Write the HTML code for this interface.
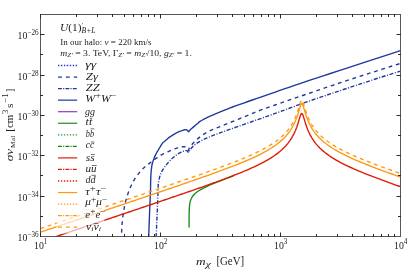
<!DOCTYPE html>
<html><head><meta charset="utf-8"><style>
html,body{margin:0;padding:0;background:#fff;}
svg{display:block;will-change:transform;opacity:0.999;}
text{font-family:"Liberation Serif",serif;fill:#1c1c1c;}
.tl{font-size:9.8px;}
.sup{font-size:7.2px;}
.it{font-style:italic;}
.lg{font-size:9.6px;}
.ssup{font-size:8.2px;}
.ssub{font-size:6.5px;font-style:italic;}
.sm{font-size:7.4px;}
.c{fill:none;stroke-width:1.38;stroke-linejoin:round;}
</style></head><body>
<svg width="407" height="270" viewBox="0 0 407 270">
<rect width="407" height="270" fill="#fff"/>
<defs><clipPath id="cp"><rect x="40.5" y="14.5" width="360.0" height="222.0"/></clipPath></defs>
<g clip-path="url(#cp)">
<path class="c" d="M121.30,237.00 L121.44,234.61 L121.64,231.18 L121.88,227.26 L122.14,223.41 L122.40,220.20 L122.67,217.70 L122.96,215.54 L123.26,213.61 L123.57,211.77 L123.90,209.90 L124.21,208.07 L124.51,206.35 L124.83,204.67 L125.21,202.91 L125.70,201.00 L126.31,198.85 L127.02,196.52 L127.80,194.14 L128.60,191.83 L129.40,189.70 L130.19,187.78 L130.99,185.97 L131.81,184.27 L132.65,182.66 L133.50,181.10 L134.36,179.63 L135.24,178.24 L136.14,176.93 L137.06,175.66 L138.00,174.40 L138.97,173.15 L139.95,171.93 L140.97,170.75 L142.01,169.60 L143.10,168.50 L144.26,167.44 L145.47,166.42 L146.71,165.45 L147.94,164.51 L149.10,163.60 L150.17,162.75 L151.17,161.95 L152.16,161.19 L153.18,160.41 L154.30,159.60 L155.52,158.73 L156.80,157.83 L158.14,156.92 L159.51,156.04 L160.90,155.20 L162.33,154.42 L163.82,153.67 L165.32,152.96 L166.83,152.27 L168.30,151.60 L169.76,150.94 L171.23,150.29 L172.68,149.67 L174.08,149.10 L175.40,148.60 L176.64,148.17 L177.81,147.79 L178.93,147.47 L179.99,147.21 L181.00,147.00 L181.98,146.84 L182.92,146.74 L183.81,146.70 L184.61,146.72 L185.30,146.80 L185.88,147.00 L186.36,147.31 L186.75,147.66 L187.06,147.98 L187.30,148.20 L188.40,150.40 L189.40,147.80 L189.77,147.30 L190.28,146.62 L190.90,145.80 L191.61,144.90 L192.40,144.00 L193.28,143.06 L194.25,142.05 L195.31,141.00 L196.43,139.93 L197.60,138.90 L198.82,137.88 L200.10,136.86 L201.45,135.84 L202.85,134.85 L204.30,133.90 L205.84,132.97 L207.46,132.07 L209.13,131.19 L210.79,130.37 L212.40,129.60 L213.70,129.02 L214.72,128.61 L215.85,128.20 L217.48,127.59 L220.00,126.60 L223.74,125.10 L228.45,123.20 L233.62,121.12 L238.74,119.05 L243.30,117.20 L247.11,115.62 L250.52,114.18 L253.80,112.79 L257.24,111.39 L261.10,109.90 L265.47,108.31 L270.17,106.67 L275.07,104.99 L280.05,103.30 L285.00,101.60 L289.70,99.97 L294.24,98.40 L298.92,96.79 L304.07,95.02 L310.00,93.00 L316.74,90.71 L324.08,88.20 L331.97,85.53 L340.36,82.72 L349.20,79.80 L359.51,76.46 L371.31,72.68 L383.09,68.93 L393.33,65.68 L400.50,63.40" stroke="#20379c" stroke-dasharray="3.8,3.8" stroke-dashoffset="3.2"/>
<path class="c" d="M156.10,237.00 L156.24,233.93 L156.44,229.54 L156.67,224.50 L156.90,219.43 L157.10,215.00 L157.27,211.14 L157.43,207.42 L157.57,203.93 L157.70,200.76 L157.80,198.00 L157.87,195.76 L157.90,194.00 L157.92,192.52 L157.95,191.14 L158.00,189.70 L158.06,188.21 L158.12,186.79 L158.20,185.40 L158.32,184.02 L158.50,182.60 L158.74,181.12 L159.04,179.59 L159.38,178.07 L159.76,176.59 L160.20,175.20 L160.69,173.91 L161.23,172.70 L161.82,171.54 L162.44,170.41 L163.10,169.30 L163.79,168.21 L164.53,167.16 L165.29,166.12 L166.09,165.11 L166.90,164.10 L167.72,163.10 L168.56,162.10 L169.42,161.12 L170.33,160.16 L171.30,159.20 L172.36,158.23 L173.50,157.24 L174.67,156.28 L175.82,155.39 L176.90,154.60 L177.89,153.93 L178.84,153.36 L179.75,152.86 L180.63,152.41 L181.50,152.00 L182.37,151.61 L183.24,151.27 L184.08,150.97 L184.84,150.75 L185.50,150.60 L186.04,150.57 L186.50,150.65 L186.88,150.78 L187.18,150.92 L187.40,151.00 L188.60,152.60 L189.80,150.20 L190.27,149.59 L190.92,148.73 L191.71,147.74 L192.58,146.72 L193.50,145.80 L194.47,144.98 L195.52,144.19 L196.64,143.42 L197.83,142.66 L199.10,141.90 L200.45,141.14 L201.90,140.39 L203.40,139.65 L204.95,138.92 L206.50,138.20 L208.12,137.48 L209.82,136.75 L211.52,136.04 L213.14,135.38 L214.60,134.80 L215.57,134.43 L216.10,134.24 L216.68,134.05 L217.82,133.67 L220.00,132.90 L223.35,131.70 L227.55,130.20 L232.39,128.47 L237.71,126.58 L243.30,124.60 L249.34,122.48 L255.94,120.18 L262.86,117.77 L269.86,115.32 L276.70,112.90 L282.89,110.65 L288.61,108.52 L294.55,106.30 L301.45,103.80 L310.00,100.80 L321.25,96.97 L334.72,92.45 L348.86,87.73 L362.11,83.35 L372.90,79.80 L381.12,77.15 L387.81,75.05 L393.14,73.43 L397.31,72.17 L400.50,71.20" stroke="#20379c" stroke-dasharray="4,1.6,1,1.6"/>
<path class="c" d="M148.70,237.00 L148.81,233.93 L148.97,229.54 L149.15,224.50 L149.33,219.43 L149.50,215.00 L149.65,211.14 L149.81,207.42 L149.95,203.93 L150.09,200.76 L150.20,198.00 L150.28,195.89 L150.34,194.36 L150.39,193.06 L150.44,191.63 L150.50,189.70 L150.56,187.09 L150.62,184.03 L150.69,180.81 L150.78,177.71 L150.90,175.00 L151.05,172.72 L151.21,170.69 L151.41,168.84 L151.63,167.13 L151.90,165.50 L152.21,163.98 L152.56,162.62 L152.94,161.35 L153.35,160.13 L153.80,158.90 L154.30,157.63 L154.87,156.35 L155.45,155.12 L156.00,153.98 L156.50,153.00 L156.88,152.27 L157.18,151.75 L157.47,151.31 L157.82,150.77 L158.30,150.00 L158.96,148.88 L159.76,147.50 L160.62,146.05 L161.46,144.69 L162.20,143.60 L162.81,142.85 L163.35,142.32 L163.85,141.92 L164.39,141.51 L165.00,141.00 L165.72,140.35 L166.50,139.64 L167.32,138.92 L168.13,138.22 L168.90,137.60 L169.60,137.08 L170.24,136.64 L170.88,136.22 L171.58,135.79 L172.40,135.30 L173.38,134.71 L174.48,134.05 L175.64,133.37 L176.77,132.74 L177.80,132.20 L178.74,131.77 L179.62,131.42 L180.46,131.12 L181.26,130.86 L182.00,130.60 L182.70,130.34 L183.35,130.09 L183.96,129.88 L184.51,129.71 L185.00,129.60 L185.44,129.58 L185.82,129.64 L186.14,129.74 L186.40,129.84 L186.60,129.90 L187.70,130.80 L188.70,131.80 L189.80,130.20 L190.04,129.97 L190.36,129.67 L190.77,129.29 L191.31,128.80 L192.00,128.20 L192.95,127.39 L194.15,126.39 L195.43,125.32 L196.63,124.32 L197.60,123.50 L198.21,122.94 L198.57,122.55 L198.86,122.24 L199.28,121.89 L200.00,121.40 L201.09,120.74 L202.43,119.98 L203.92,119.17 L205.48,118.36 L207.00,117.60 L208.40,116.94 L209.73,116.34 L211.14,115.74 L212.78,115.05 L214.80,114.20 L217.31,113.14 L220.22,111.92 L223.34,110.61 L226.53,109.31 L229.60,108.10 L232.55,106.99 L235.48,105.93 L238.42,104.90 L241.39,103.86 L244.40,102.80 L247.32,101.76 L250.13,100.76 L253.04,99.73 L256.27,98.60 L260.00,97.30 L264.40,95.78 L269.32,94.08 L274.55,92.28 L279.85,90.46 L285.00,88.70 L289.81,87.05 L294.42,85.47 L299.14,83.85 L304.23,82.13 L310.00,80.20 L316.37,78.10 L323.14,75.88 L330.44,73.50 L338.35,70.92 L347.00,68.10 L357.50,64.67 L369.78,60.65 L382.16,56.60 L392.96,53.07 L400.50,50.60" stroke="#20379c"/>
<path class="c" d="M189.07,227.58 L189.07,225.52 L189.07,223.46 L189.08,221.40 L189.09,219.34 L189.10,217.28 L189.12,215.22 L189.15,213.16 L189.20,211.09 L189.28,209.02 L189.41,206.95 L189.61,204.87 L189.94,202.77 L190.46,200.66 L191.27,198.50 L192.55,196.29 L194.54,193.99 L197.56,191.53 L202.07,188.82 L208.55,185.71 L217.49,181.98 L217.75,181.87 L220.85,180.64 L223.95,179.42 L227.05,178.21 L230.14,176.99 L233.24,175.76" stroke="#1e8c1e"/>
<path class="c" d="M40.50,241.78 L42.51,241.10 L44.52,240.42 L46.53,239.75 L48.54,239.07 L50.56,238.39 L52.57,237.72 L54.58,237.04 L56.59,236.36 L58.60,235.69 L60.61,235.01 L62.62,234.33 L64.63,233.66 L66.65,232.98 L68.66,232.31 L70.67,231.63 L72.68,230.95 L74.69,230.27 L76.70,229.60 L78.71,228.92 L80.72,228.24 L82.73,227.57 L84.75,226.89 L86.76,226.21 L88.77,225.54 L90.78,224.86 L92.79,224.18 L94.80,223.51 L96.81,222.83 L98.82,222.15 L100.84,221.48 L102.85,220.80 L104.86,220.12 L106.87,219.44 L108.88,218.77 L110.89,218.09 L112.90,217.41 L114.91,216.73 L116.92,216.06 L118.94,215.38 L120.95,214.70 L122.96,214.02 L124.97,213.35 L126.98,212.67 L128.99,211.99 L131.00,211.31 L133.01,210.63 L135.03,209.95 L137.04,209.28 L139.05,208.60 L141.06,207.92 L143.07,207.24 L145.08,206.56 L147.09,205.88 L149.10,205.20 L151.11,204.52 L153.13,203.84 L155.14,203.16 L157.15,202.47 L159.16,201.79 L161.17,201.11 L163.18,200.43 L165.19,199.74 L167.20,199.06 L169.22,198.37 L171.23,197.69 L173.24,197.00 L175.25,196.32 L177.26,195.63 L179.27,194.94 L181.28,194.25 L183.29,193.56 L185.30,192.87 L187.32,192.18 L189.33,191.48 L191.34,190.79 L193.35,190.09 L195.36,189.39 L197.37,188.69 L199.38,187.99 L201.39,187.28 L203.41,186.58 L205.42,185.87 L207.43,185.16 L209.44,184.44 L211.45,183.72 L213.46,183.00 L215.47,182.28 L217.48,181.55 L219.49,180.81 L221.51,180.07 L223.52,179.33 L225.53,178.58 L227.54,177.82 L229.55,177.06 L231.56,176.29 L233.57,175.51 L235.58,174.73 L237.59,173.93 L239.61,173.12 L241.62,172.30 L243.63,171.47 L245.64,170.63 L247.65,169.77 L249.66,168.89 L251.67,167.99 L253.68,167.07 L255.70,166.13 L257.71,165.17 L259.72,164.17 L261.73,163.15 L263.74,162.08 L265.75,160.98 L267.76,159.83 L269.77,158.63 L271.78,157.37 L273.80,156.04 L275.81,154.63 L277.82,153.12 L279.83,151.51 L281.84,149.76 L283.85,147.84 L285.86,145.73 L287.87,143.37 L289.89,140.68 L291.90,137.56 L293.91,133.84 L294.17,133.30 L294.37,132.88 L294.57,132.45 L294.77,132.01 L294.97,131.57 L295.17,131.12 L295.36,130.66 L295.56,130.19 L295.75,129.71 L295.92,129.30 L295.95,129.23 L296.14,128.73 L296.33,128.23 L296.52,127.72 L296.72,127.20 L296.91,126.67 L297.10,126.12 L297.29,125.57 L297.47,125.01 L297.66,124.45 L297.85,123.87 L297.93,123.61 L298.04,123.28 L298.22,122.69 L298.41,122.08 L298.59,121.48 L298.77,120.86 L298.96,120.25 L299.14,119.63 L299.32,119.02 L299.50,118.41 L299.68,117.81 L299.86,117.22 L299.94,116.97 L300.04,116.65 L300.22,116.11 L300.40,115.60 L300.58,115.12 L300.76,114.70 L300.93,114.32 L301.11,114.01 L301.28,113.76 L301.46,113.59 L301.63,113.49 L301.80,113.47 L301.95,113.52 L301.98,113.53 L302.15,113.67 L302.32,113.87 L302.49,114.14 L302.66,114.47 L302.83,114.85 L303.00,115.28 L303.17,115.74 L303.34,116.23 L303.51,116.75 L303.67,117.28 L303.84,117.82 L303.96,118.23 L304.01,118.37 L304.17,118.93 L304.34,119.49 L304.50,120.05 L304.67,120.60 L304.83,121.15 L304.99,121.69 L305.16,122.22 L305.32,122.75 L305.48,123.26 L305.64,123.77 L305.80,124.27 L305.96,124.76 L305.97,124.80 L306.12,125.24 L306.28,125.71 L306.44,126.17 L306.60,126.62 L306.76,127.06 L306.91,127.49 L307.07,127.92 L307.23,128.33 L307.38,128.74 L307.54,129.13 L307.69,129.52 L307.85,129.90 L307.99,130.24 L308.00,130.28 L308.15,130.64 L308.31,131.00 L308.46,131.36 L308.61,131.70 L308.76,132.04 L310.00,134.61 L312.01,138.19 L314.02,141.22 L316.03,143.84 L318.04,146.15 L320.05,148.22 L322.06,150.10 L324.08,151.82 L326.09,153.42 L328.10,154.90 L330.11,156.30 L332.12,157.62 L334.13,158.87 L336.14,160.06 L338.15,161.20 L340.16,162.29 L342.18,163.35 L344.19,164.37 L346.20,165.36 L348.21,166.32 L350.22,167.25 L352.23,168.16 L354.24,169.06 L356.25,169.93 L358.27,170.79 L360.28,171.63 L362.29,172.46 L364.30,173.28 L366.31,174.08 L368.32,174.88 L370.33,175.66 L372.34,176.44 L374.35,177.21 L376.37,177.97 L378.38,178.72 L380.39,179.47 L382.40,180.22 L384.41,180.95 L386.42,181.69 L388.43,182.41 L390.44,183.14 L392.46,183.86 L394.47,184.58 L396.48,185.29 L398.49,186.00 L400.50,186.71" stroke="#de1c04"/>
<path class="c" d="M40.50,232.15 L42.51,231.47 L44.52,230.80 L46.53,230.12 L48.54,229.44 L50.56,228.77 L52.57,228.09 L54.58,227.41 L56.59,226.74 L58.60,226.06 L60.61,225.38 L62.62,224.71 L64.63,224.03 L66.65,223.35 L68.66,222.68 L70.67,222.00 L72.68,221.32 L74.69,220.65 L76.70,219.97 L78.71,219.29 L80.72,218.62 L82.73,217.94 L84.75,217.26 L86.76,216.59 L88.77,215.91 L90.78,215.23 L92.79,214.55 L94.80,213.88 L96.81,213.20 L98.82,212.52 L100.84,211.85 L102.85,211.17 L104.86,210.49 L106.87,209.82 L108.88,209.14 L110.89,208.46 L112.90,207.78 L114.91,207.11 L116.92,206.43 L118.94,205.75 L120.95,205.07 L122.96,204.39 L124.97,203.72 L126.98,203.04 L128.99,202.36 L131.00,201.68 L133.01,201.00 L135.03,200.33 L137.04,199.65 L139.05,198.97 L141.06,198.29 L143.07,197.61 L145.08,196.93 L147.09,196.25 L149.10,195.57 L151.11,194.89 L153.13,194.21 L155.14,193.53 L157.15,192.84 L159.16,192.16 L161.17,191.48 L163.18,190.80 L165.19,190.11 L167.20,189.43 L169.22,188.75 L171.23,188.06 L173.24,187.37 L175.25,186.69 L177.26,186.00 L179.27,185.31 L181.28,184.62 L183.29,183.93 L185.30,183.24 L187.32,182.55 L189.33,181.85 L191.34,181.16 L193.35,180.46 L195.36,179.76 L197.37,179.06 L199.38,178.36 L201.39,177.66 L203.41,176.95 L205.42,176.24 L207.43,175.53 L209.44,174.81 L211.45,174.09 L213.46,173.37 L215.47,172.65 L217.48,171.92 L219.49,171.18 L221.51,170.44 L223.52,169.70 L225.53,168.95 L227.54,168.20 L229.55,167.43 L231.56,166.66 L233.57,165.88 L235.58,165.10 L237.59,164.30 L239.61,163.49 L241.62,162.67 L243.63,161.84 L245.64,161.00 L247.65,160.14 L249.66,159.26 L251.67,158.36 L253.68,157.45 L255.70,156.51 L257.71,155.54 L259.72,154.54 L261.73,153.52 L263.74,152.46 L265.75,151.35 L267.76,150.20 L269.77,149.00 L271.78,147.74 L273.80,146.41 L275.81,145.00 L277.82,143.49 L279.83,141.88 L281.84,140.13 L283.85,138.22 L285.86,136.10 L287.87,133.74 L289.89,131.05 L291.90,127.93 L293.91,124.21 L294.17,123.67 L294.37,123.25 L294.57,122.82 L294.77,122.38 L294.97,121.94 L295.17,121.49 L295.36,121.03 L295.56,120.56 L295.75,120.08 L295.92,119.67 L295.95,119.60 L296.14,119.10 L296.33,118.60 L296.52,118.09 L296.72,117.57 L296.91,117.04 L297.10,116.50 L297.29,115.95 L297.47,115.39 L297.66,114.82 L297.85,114.24 L297.93,113.98 L298.04,113.65 L298.22,113.06 L298.41,112.45 L298.59,111.85 L298.77,111.23 L298.96,110.62 L299.14,110.00 L299.32,109.39 L299.50,108.78 L299.68,108.18 L299.86,107.59 L299.94,107.34 L300.04,107.02 L300.22,106.48 L300.40,105.97 L300.58,105.49 L300.76,105.07 L300.93,104.69 L301.11,104.38 L301.28,104.13 L301.46,103.96 L301.63,103.86 L301.80,103.84 L301.95,103.89 L301.98,103.90 L302.15,104.04 L302.32,104.24 L302.49,104.51 L302.66,104.84 L302.83,105.22 L303.00,105.65 L303.17,106.11 L303.34,106.60 L303.51,107.12 L303.67,107.65 L303.84,108.19 L303.96,108.60 L304.01,108.75 L304.17,109.30 L304.34,109.86 L304.50,110.42 L304.67,110.97 L304.83,111.52 L304.99,112.06 L305.16,112.59 L305.32,113.12 L305.48,113.64 L305.64,114.14 L305.80,114.64 L305.96,115.13 L305.97,115.17 L306.12,115.61 L306.28,116.08 L306.44,116.54 L306.60,116.99 L306.76,117.43 L306.91,117.86 L307.07,118.29 L307.23,118.70 L307.38,119.11 L307.54,119.50 L307.69,119.89 L307.85,120.28 L307.99,120.61 L308.00,120.65 L308.15,121.02 L308.31,121.37 L308.46,121.73 L308.61,122.07 L308.76,122.41 L310.00,124.98 L312.01,128.56 L314.02,131.59 L316.03,134.21 L318.04,136.52 L320.05,138.59 L322.06,140.47 L324.08,142.20 L326.09,143.79 L328.10,145.28 L330.11,146.67 L332.12,147.99 L334.13,149.24 L336.14,150.43 L338.15,151.57 L340.16,152.66 L342.18,153.72 L344.19,154.74 L346.20,155.73 L348.21,156.69 L350.22,157.62 L352.23,158.54 L354.24,159.43 L356.25,160.30 L358.27,161.16 L360.28,162.00 L362.29,162.83 L364.30,163.65 L366.31,164.45 L368.32,165.25 L370.33,166.03 L372.34,166.81 L374.35,167.58 L376.37,168.34 L378.38,169.09 L380.39,169.84 L382.40,170.59 L384.41,171.32 L386.42,172.06 L388.43,172.79 L390.44,173.51 L392.46,174.23 L394.47,174.95 L396.48,175.66 L398.49,176.37 L400.50,177.08" stroke="#ff9912"/>
<path class="c" d="M40.50,228.59 L42.51,227.92 L44.52,227.24 L46.53,226.56 L48.54,225.89 L50.56,225.21 L52.57,224.53 L54.58,223.86 L56.59,223.18 L58.60,222.51 L60.61,221.83 L62.62,221.15 L64.63,220.48 L66.65,219.80 L68.66,219.12 L70.67,218.45 L72.68,217.77 L74.69,217.09 L76.70,216.42 L78.71,215.74 L80.72,215.06 L82.73,214.39 L84.75,213.71 L86.76,213.03 L88.77,212.35 L90.78,211.68 L92.79,211.00 L94.80,210.32 L96.81,209.65 L98.82,208.97 L100.84,208.29 L102.85,207.62 L104.86,206.94 L106.87,206.26 L108.88,205.58 L110.89,204.91 L112.90,204.23 L114.91,203.55 L116.92,202.87 L118.94,202.20 L120.95,201.52 L122.96,200.84 L124.97,200.16 L126.98,199.48 L128.99,198.81 L131.00,198.13 L133.01,197.45 L135.03,196.77 L137.04,196.09 L139.05,195.41 L141.06,194.73 L143.07,194.05 L145.08,193.38 L147.09,192.70 L149.10,192.02 L151.11,191.33 L153.13,190.65 L155.14,189.97 L157.15,189.29 L159.16,188.61 L161.17,187.93 L163.18,187.24 L165.19,186.56 L167.20,185.88 L169.22,185.19 L171.23,184.51 L173.24,183.82 L175.25,183.13 L177.26,182.45 L179.27,181.76 L181.28,181.07 L183.29,180.38 L185.30,179.69 L187.32,178.99 L189.33,178.30 L191.34,177.60 L193.35,176.91 L195.36,176.21 L197.37,175.51 L199.38,174.81 L201.39,174.10 L203.41,173.39 L205.42,172.69 L207.43,171.97 L209.44,171.26 L211.45,170.54 L213.46,169.82 L215.47,169.09 L217.48,168.36 L219.49,167.63 L221.51,166.89 L223.52,166.15 L225.53,165.40 L227.54,164.64 L229.55,163.88 L231.56,163.11 L233.57,162.33 L235.58,161.54 L237.59,160.75 L239.61,159.94 L241.62,159.12 L243.63,158.29 L245.64,157.44 L247.65,156.58 L249.66,155.71 L251.67,154.81 L253.68,153.89 L255.70,152.95 L257.71,151.99 L259.72,150.99 L261.73,149.96 L263.74,148.90 L265.75,147.80 L267.76,146.65 L269.77,145.45 L271.78,144.19 L273.80,142.86 L275.81,141.45 L277.82,139.94 L279.83,138.32 L281.84,136.57 L283.85,134.66 L285.86,132.55 L287.87,130.18 L289.89,127.49 L291.90,124.37 L293.91,120.66 L294.17,120.11 L294.37,119.69 L294.57,119.26 L294.77,118.83 L294.97,118.38 L295.17,117.93 L295.36,117.47 L295.56,117.01 L295.75,116.53 L295.92,116.11 L295.95,116.04 L296.14,115.55 L296.33,115.05 L296.52,114.54 L296.72,114.01 L296.91,113.48 L297.10,112.94 L297.29,112.39 L297.47,111.83 L297.66,111.26 L297.85,110.68 L297.93,110.43 L298.04,110.10 L298.22,109.50 L298.41,108.90 L298.59,108.29 L298.77,107.68 L298.96,107.06 L299.14,106.45 L299.32,105.83 L299.50,105.22 L299.68,104.62 L299.86,104.04 L299.94,103.79 L300.04,103.47 L300.22,102.93 L300.40,102.41 L300.58,101.94 L300.76,101.51 L300.93,101.14 L301.11,100.83 L301.28,100.58 L301.46,100.41 L301.63,100.31 L301.80,100.29 L301.95,100.34 L301.98,100.35 L302.15,100.48 L302.32,100.69 L302.49,100.96 L302.66,101.29 L302.83,101.67 L303.00,102.09 L303.17,102.56 L303.34,103.05 L303.51,103.56 L303.67,104.09 L303.84,104.64 L303.96,105.04 L304.01,105.19 L304.17,105.75 L304.34,106.31 L304.50,106.86 L304.67,107.42 L304.83,107.96 L304.99,108.50 L305.16,109.04 L305.32,109.56 L305.48,110.08 L305.64,110.59 L305.80,111.09 L305.96,111.58 L305.97,111.61 L306.12,112.06 L306.28,112.53 L306.44,112.99 L306.60,113.44 L306.76,113.88 L306.91,114.31 L307.07,114.73 L307.23,115.15 L307.38,115.55 L307.54,115.95 L307.69,116.34 L307.85,116.72 L307.99,117.06 L308.00,117.10 L308.15,117.46 L308.31,117.82 L308.46,118.17 L308.61,118.52 L308.76,118.86 L310.00,121.42 L312.01,125.01 L314.02,128.04 L316.03,130.66 L318.04,132.97 L320.05,135.04 L322.06,136.92 L324.08,138.64 L326.09,140.24 L328.10,141.72 L330.11,143.12 L332.12,144.43 L334.13,145.68 L336.14,146.87 L338.15,148.01 L340.16,149.11 L342.18,150.16 L344.19,151.18 L346.20,152.17 L348.21,153.13 L350.22,154.07 L352.23,154.98 L354.24,155.87 L356.25,156.75 L358.27,157.61 L360.28,158.45 L362.29,159.28 L364.30,160.09 L366.31,160.90 L368.32,161.69 L370.33,162.48 L372.34,163.26 L374.35,164.02 L376.37,164.79 L378.38,165.54 L380.39,166.29 L382.40,167.03 L384.41,167.77 L386.42,168.50 L388.43,169.23 L390.44,169.96 L392.46,170.68 L394.47,171.40 L396.48,172.11 L398.49,172.82 L400.50,173.53" stroke="#ff9912" stroke-dasharray="3.8,3.8"/>
</g>
<rect x="56.5" y="17" width="47.8" height="216.5" rx="1.5" fill="#fff" fill-opacity="0.66"/>
<rect x="40.5" y="14.5" width="360.0" height="222.0" fill="none" stroke="#585858" stroke-width="1"/>
<line x1="76.50" y1="237.00" x2="76.50" y2="234.00" stroke="#2a2a2a" stroke-width="1.00"/><line x1="76.50" y1="14.00" x2="76.50" y2="17.00" stroke="#2a2a2a" stroke-width="1.00"/><line x1="97.50" y1="237.00" x2="97.50" y2="234.00" stroke="#2a2a2a" stroke-width="1.00"/><line x1="97.50" y1="14.00" x2="97.50" y2="17.00" stroke="#2a2a2a" stroke-width="1.00"/><line x1="112.50" y1="237.00" x2="112.50" y2="234.00" stroke="#2a2a2a" stroke-width="1.00"/><line x1="112.50" y1="14.00" x2="112.50" y2="17.00" stroke="#2a2a2a" stroke-width="1.00"/><line x1="124.50" y1="237.00" x2="124.50" y2="234.00" stroke="#2a2a2a" stroke-width="1.00"/><line x1="124.50" y1="14.00" x2="124.50" y2="17.00" stroke="#2a2a2a" stroke-width="1.00"/><line x1="133.50" y1="237.00" x2="133.50" y2="234.00" stroke="#2a2a2a" stroke-width="1.00"/><line x1="133.50" y1="14.00" x2="133.50" y2="17.00" stroke="#2a2a2a" stroke-width="1.00"/><line x1="141.50" y1="237.00" x2="141.50" y2="234.00" stroke="#2a2a2a" stroke-width="1.00"/><line x1="141.50" y1="14.00" x2="141.50" y2="17.00" stroke="#2a2a2a" stroke-width="1.00"/><line x1="148.50" y1="237.00" x2="148.50" y2="234.00" stroke="#2a2a2a" stroke-width="1.00"/><line x1="148.50" y1="14.00" x2="148.50" y2="17.00" stroke="#2a2a2a" stroke-width="1.00"/><line x1="154.50" y1="237.00" x2="154.50" y2="234.00" stroke="#2a2a2a" stroke-width="1.00"/><line x1="154.50" y1="14.00" x2="154.50" y2="17.00" stroke="#2a2a2a" stroke-width="1.00"/><line x1="160.50" y1="237.00" x2="160.50" y2="232.50" stroke="#2a2a2a" stroke-width="1.00"/><line x1="160.50" y1="14.00" x2="160.50" y2="18.50" stroke="#2a2a2a" stroke-width="1.00"/><line x1="196.50" y1="237.00" x2="196.50" y2="234.00" stroke="#2a2a2a" stroke-width="1.00"/><line x1="196.50" y1="14.00" x2="196.50" y2="17.00" stroke="#2a2a2a" stroke-width="1.00"/><line x1="217.50" y1="237.00" x2="217.50" y2="234.00" stroke="#2a2a2a" stroke-width="1.00"/><line x1="217.50" y1="14.00" x2="217.50" y2="17.00" stroke="#2a2a2a" stroke-width="1.00"/><line x1="232.50" y1="237.00" x2="232.50" y2="234.00" stroke="#2a2a2a" stroke-width="1.00"/><line x1="232.50" y1="14.00" x2="232.50" y2="17.00" stroke="#2a2a2a" stroke-width="1.00"/><line x1="244.50" y1="237.00" x2="244.50" y2="234.00" stroke="#2a2a2a" stroke-width="1.00"/><line x1="244.50" y1="14.00" x2="244.50" y2="17.00" stroke="#2a2a2a" stroke-width="1.00"/><line x1="253.50" y1="237.00" x2="253.50" y2="234.00" stroke="#2a2a2a" stroke-width="1.00"/><line x1="253.50" y1="14.00" x2="253.50" y2="17.00" stroke="#2a2a2a" stroke-width="1.00"/><line x1="261.50" y1="237.00" x2="261.50" y2="234.00" stroke="#2a2a2a" stroke-width="1.00"/><line x1="261.50" y1="14.00" x2="261.50" y2="17.00" stroke="#2a2a2a" stroke-width="1.00"/><line x1="268.50" y1="237.00" x2="268.50" y2="234.00" stroke="#2a2a2a" stroke-width="1.00"/><line x1="268.50" y1="14.00" x2="268.50" y2="17.00" stroke="#2a2a2a" stroke-width="1.00"/><line x1="274.50" y1="237.00" x2="274.50" y2="234.00" stroke="#2a2a2a" stroke-width="1.00"/><line x1="274.50" y1="14.00" x2="274.50" y2="17.00" stroke="#2a2a2a" stroke-width="1.00"/><line x1="280.50" y1="237.00" x2="280.50" y2="232.50" stroke="#2a2a2a" stroke-width="1.00"/><line x1="280.50" y1="14.00" x2="280.50" y2="18.50" stroke="#2a2a2a" stroke-width="1.00"/><line x1="316.50" y1="237.00" x2="316.50" y2="234.00" stroke="#2a2a2a" stroke-width="1.00"/><line x1="316.50" y1="14.00" x2="316.50" y2="17.00" stroke="#2a2a2a" stroke-width="1.00"/><line x1="337.50" y1="237.00" x2="337.50" y2="234.00" stroke="#2a2a2a" stroke-width="1.00"/><line x1="337.50" y1="14.00" x2="337.50" y2="17.00" stroke="#2a2a2a" stroke-width="1.00"/><line x1="352.50" y1="237.00" x2="352.50" y2="234.00" stroke="#2a2a2a" stroke-width="1.00"/><line x1="352.50" y1="14.00" x2="352.50" y2="17.00" stroke="#2a2a2a" stroke-width="1.00"/><line x1="364.50" y1="237.00" x2="364.50" y2="234.00" stroke="#2a2a2a" stroke-width="1.00"/><line x1="364.50" y1="14.00" x2="364.50" y2="17.00" stroke="#2a2a2a" stroke-width="1.00"/><line x1="373.50" y1="237.00" x2="373.50" y2="234.00" stroke="#2a2a2a" stroke-width="1.00"/><line x1="373.50" y1="14.00" x2="373.50" y2="17.00" stroke="#2a2a2a" stroke-width="1.00"/><line x1="381.50" y1="237.00" x2="381.50" y2="234.00" stroke="#2a2a2a" stroke-width="1.00"/><line x1="381.50" y1="14.00" x2="381.50" y2="17.00" stroke="#2a2a2a" stroke-width="1.00"/><line x1="388.50" y1="237.00" x2="388.50" y2="234.00" stroke="#2a2a2a" stroke-width="1.00"/><line x1="388.50" y1="14.00" x2="388.50" y2="17.00" stroke="#2a2a2a" stroke-width="1.00"/><line x1="394.50" y1="237.00" x2="394.50" y2="234.00" stroke="#2a2a2a" stroke-width="1.00"/><line x1="394.50" y1="14.00" x2="394.50" y2="17.00" stroke="#2a2a2a" stroke-width="1.00"/><line x1="40.00" y1="216.50" x2="43.00" y2="216.50" stroke="#2a2a2a" stroke-width="1.00"/><line x1="401.00" y1="216.50" x2="398.00" y2="216.50" stroke="#2a2a2a" stroke-width="1.00"/><line x1="40.00" y1="196.50" x2="44.50" y2="196.50" stroke="#2a2a2a" stroke-width="1.00"/><line x1="401.00" y1="196.50" x2="396.50" y2="196.50" stroke="#2a2a2a" stroke-width="1.00"/><line x1="40.00" y1="175.50" x2="43.00" y2="175.50" stroke="#2a2a2a" stroke-width="1.00"/><line x1="401.00" y1="175.50" x2="398.00" y2="175.50" stroke="#2a2a2a" stroke-width="1.00"/><line x1="40.00" y1="155.50" x2="44.50" y2="155.50" stroke="#2a2a2a" stroke-width="1.00"/><line x1="401.00" y1="155.50" x2="396.50" y2="155.50" stroke="#2a2a2a" stroke-width="1.00"/><line x1="40.00" y1="135.50" x2="43.00" y2="135.50" stroke="#2a2a2a" stroke-width="1.00"/><line x1="401.00" y1="135.50" x2="398.00" y2="135.50" stroke="#2a2a2a" stroke-width="1.00"/><line x1="40.00" y1="115.50" x2="44.50" y2="115.50" stroke="#2a2a2a" stroke-width="1.00"/><line x1="401.00" y1="115.50" x2="396.50" y2="115.50" stroke="#2a2a2a" stroke-width="1.00"/><line x1="40.00" y1="95.50" x2="43.00" y2="95.50" stroke="#2a2a2a" stroke-width="1.00"/><line x1="401.00" y1="95.50" x2="398.00" y2="95.50" stroke="#2a2a2a" stroke-width="1.00"/><line x1="40.00" y1="75.50" x2="44.50" y2="75.50" stroke="#2a2a2a" stroke-width="1.00"/><line x1="401.00" y1="75.50" x2="396.50" y2="75.50" stroke="#2a2a2a" stroke-width="1.00"/><line x1="40.00" y1="54.50" x2="43.00" y2="54.50" stroke="#2a2a2a" stroke-width="1.00"/><line x1="401.00" y1="54.50" x2="398.00" y2="54.50" stroke="#2a2a2a" stroke-width="1.00"/><line x1="40.00" y1="34.50" x2="44.50" y2="34.50" stroke="#2a2a2a" stroke-width="1.00"/><line x1="401.00" y1="34.50" x2="396.50" y2="34.50" stroke="#2a2a2a" stroke-width="1.00"/><line x1="40.50" y1="14.00" x2="40.50" y2="18.50" stroke="#2a2a2a" stroke-width="1.00"/><line x1="40.50" y1="237.00" x2="40.50" y2="232.50" stroke="#2a2a2a" stroke-width="1.00"/>
<g class="txt">
<text x="38.6" y="241.20" text-anchor="end" class="tl">10<tspan dy="-4.2" class="sup">−36</tspan></text><text x="38.6" y="200.84" text-anchor="end" class="tl">10<tspan dy="-4.2" class="sup">−34</tspan></text><text x="38.6" y="160.47" text-anchor="end" class="tl">10<tspan dy="-4.2" class="sup">−32</tspan></text><text x="38.6" y="120.11" text-anchor="end" class="tl">10<tspan dy="-4.2" class="sup">−30</tspan></text><text x="38.6" y="79.75" text-anchor="end" class="tl">10<tspan dy="-4.2" class="sup">−28</tspan></text><text x="38.6" y="39.38" text-anchor="end" class="tl">10<tspan dy="-4.2" class="sup">−26</tspan></text>
<text x="40.70" y="248.6" text-anchor="middle" class="tl">10<tspan dy="-4.2" class="sup">1</tspan></text><text x="160.70" y="248.6" text-anchor="middle" class="tl">10<tspan dy="-4.2" class="sup">2</tspan></text><text x="280.70" y="248.6" text-anchor="middle" class="tl">10<tspan dy="-4.2" class="sup">3</tspan></text><text x="400.70" y="248.6" text-anchor="middle" class="tl">10<tspan dy="-4.2" class="sup">4</tspan></text>
<text x="60" y="30.8" style="font-size:11px" textLength="35.6" lengthAdjust="spacingAndGlyphs"><tspan class="it">U</tspan>(1)<tspan dy="-3.5" style="font-size:7px">′</tspan><tspan dy="5.6" dx="-1.5" class="it" style="font-size:7.4px">B+L</tspan></text>
<text x="60.3" y="44.6" class="sm" textLength="91.2" lengthAdjust="spacingAndGlyphs">In our halo: <tspan class="it">v</tspan> = 220 km/s</text>
<text x="60.3" y="55.6" class="sm" textLength="131.6" lengthAdjust="spacingAndGlyphs"><tspan class="it">m</tspan><tspan dy="1.5" style="font-size:5.4px" class="it">Z′</tspan><tspan dy="-1.5"> = 3. TeV, Γ</tspan><tspan dy="1.5" style="font-size:5.4px" class="it">Z′</tspan><tspan dy="-1.5"> = </tspan><tspan class="it">m</tspan><tspan dy="1.5" style="font-size:5.4px" class="it">Z′</tspan><tspan dy="-1.5">/10, </tspan><tspan class="it">g</tspan><tspan dy="1.5" style="font-size:5.4px" class="it">Z′</tspan><tspan dy="-1.5"> = 1.</tspan></text>
<line x1="58" y1="65.50" x2="77.2" y2="65.50" stroke="#2233cc" stroke-width="1.35" stroke-dasharray="1.35,1.6"/><text x="85.30" y="67.70" class="lg" textLength="11.00" lengthAdjust="spacingAndGlyphs"><tspan class='it'>γγ</tspan></text><line x1="58" y1="77.05" x2="77.2" y2="77.05" stroke="#20379c" stroke-width="1.2" stroke-dasharray="3.9,4"/><text x="85.80" y="79.70" class="lg" textLength="12.20" lengthAdjust="spacingAndGlyphs"><tspan class='it'>Zγ</tspan></text><line x1="58" y1="88.60" x2="77.2" y2="88.60" stroke="#20379c" stroke-width="1.2" stroke-dasharray="3.9,1.2,1.1,1.2"/><text x="85.80" y="90.50" class="lg" textLength="13.90" lengthAdjust="spacingAndGlyphs"><tspan class='it'>ZZ</tspan></text><line x1="58" y1="100.15" x2="77.2" y2="100.15" stroke="#20379c" stroke-width="1.2" stroke-dasharray="none"/><text x="85.30" y="101.70" class="lg" textLength="31.30" lengthAdjust="spacingAndGlyphs"><tspan class='it'>W</tspan><tspan dy='-3.7' class='ssup'>+</tspan><tspan dy='3.7' class='it'>W</tspan><tspan dy='-3.7' class='ssup'>−</tspan></text><line x1="58" y1="111.70" x2="77.2" y2="111.70" stroke="#9a35c8" stroke-width="1.2" stroke-dasharray="none"/><text x="85.00" y="114.70" class="lg" textLength="10.00" lengthAdjust="spacingAndGlyphs"><tspan class='it'>gg</tspan></text><line x1="58" y1="123.25" x2="77.2" y2="123.25" stroke="#1e8c1e" stroke-width="1.2" stroke-dasharray="none"/><text x="85.60" y="125.40" class="lg" textLength="6.60" lengthAdjust="spacingAndGlyphs"><tspan class='it'>tt</tspan></text><line x1="89.70" y1="118.30" x2="92.40" y2="118.30" stroke="#111" stroke-width="0.6"/><line x1="58" y1="134.80" x2="77.2" y2="134.80" stroke="#22a022" stroke-width="1.35" stroke-dasharray="1.35,1.6"/><text x="85.80" y="136.70" class="lg" textLength="8.30" lengthAdjust="spacingAndGlyphs"><tspan class='it'>bb</tspan></text><line x1="90.75" y1="128.80" x2="94.30" y2="128.80" stroke="#111" stroke-width="0.6"/><line x1="58" y1="146.35" x2="77.2" y2="146.35" stroke="#158515" stroke-width="1.2" stroke-dasharray="3.9,1.2,1.1,1.2"/><text x="85.80" y="148.30" class="lg" textLength="8.40" lengthAdjust="spacingAndGlyphs"><tspan class='it'>cc</tspan></text><line x1="90.80" y1="142.00" x2="94.40" y2="142.00" stroke="#111" stroke-width="0.6"/><line x1="58" y1="157.90" x2="77.2" y2="157.90" stroke="#de1c04" stroke-width="1.2" stroke-dasharray="none"/><text x="85.80" y="161.00" class="lg" textLength="8.80" lengthAdjust="spacingAndGlyphs"><tspan class='it'>ss</tspan></text><line x1="91.00" y1="154.50" x2="94.80" y2="154.50" stroke="#111" stroke-width="0.6"/><line x1="58" y1="169.45" x2="77.2" y2="169.45" stroke="#de1c04" stroke-width="1.2" stroke-dasharray="3.9,1.2,1.1,1.2"/><text x="85.50" y="172.20" class="lg" textLength="11.00" lengthAdjust="spacingAndGlyphs"><tspan class='it'>uu</tspan></text><line x1="91.80" y1="165.50" x2="96.70" y2="165.50" stroke="#111" stroke-width="0.6"/><line x1="58" y1="181.00" x2="77.2" y2="181.00" stroke="#de1c04" stroke-width="1.35" stroke-dasharray="1.35,1.6"/><text x="85.50" y="183.30" class="lg" textLength="10.10" lengthAdjust="spacingAndGlyphs"><tspan class='it'>dd</tspan></text><line x1="91.35" y1="175.30" x2="95.80" y2="175.30" stroke="#111" stroke-width="0.6"/><line x1="58" y1="192.55" x2="77.2" y2="192.55" stroke="#ff9912" stroke-width="1.2" stroke-dasharray="none"/><text x="85.30" y="194.50" class="lg" textLength="21.20" lengthAdjust="spacingAndGlyphs"><tspan class='it'>τ</tspan><tspan dy='-3.7' class='ssup'>+</tspan><tspan dy='3.7' class='it'>τ</tspan><tspan dy='-3.7' class='ssup'>−</tspan></text><line x1="58" y1="204.10" x2="77.2" y2="204.10" stroke="#ff9912" stroke-width="1.35" stroke-dasharray="1.35,1.6"/><text x="85.30" y="205.40" class="lg" textLength="22.10" lengthAdjust="spacingAndGlyphs"><tspan class='it'>μ</tspan><tspan dy='-3.7' class='ssup'>+</tspan><tspan dy='3.7' class='it'>μ</tspan><tspan dy='-3.7' class='ssup'>−</tspan></text><line x1="58" y1="215.65" x2="77.2" y2="215.65" stroke="#ff9912" stroke-width="1.2" stroke-dasharray="3.9,1.2,1.1,1.2"/><text x="85.30" y="217.50" class="lg" textLength="20.20" lengthAdjust="spacingAndGlyphs"><tspan class='it'>e</tspan><tspan dy='-3.7' class='ssup'>+</tspan><tspan dy='3.7' class='it'>e</tspan><tspan dy='-3.7' class='ssup'>−</tspan></text><line x1="58" y1="227.20" x2="77.2" y2="227.20" stroke="#ff9912" stroke-width="1.2" stroke-dasharray="3.9,4"/><text x="85.90" y="229.60" class="lg" textLength="15.10" lengthAdjust="spacingAndGlyphs"><tspan class='it'>ν</tspan><tspan dy='1.8' class='ssub'>i</tspan><tspan dy='-1.8' class='it'>ν</tspan><tspan dy='1.8' class='ssub'>i</tspan></text><line x1="93.85" y1="223.60" x2="98.45" y2="223.60" stroke="#111" stroke-width="0.6"/>
<text x="195.9" y="264.8" textLength="9.6" lengthAdjust="spacingAndGlyphs" class="it" style="font-size:11.3px">m</text><text x="205.6" y="266.6" textLength="5.4" lengthAdjust="spacingAndGlyphs" class="it" style="font-size:8px">χ</text><text x="216.4" y="264.8" textLength="27.8" lengthAdjust="spacingAndGlyphs" style="font-size:11.6px">[GeV]</text>
<g transform="translate(12.6,161.3) rotate(-90)" style="font-size:11.3px">
<text x="0" y="0" class="it" textLength="12.4" lengthAdjust="spacingAndGlyphs">σv</text>
<text x="13.3" y="2.3" style="font-size:6.9px" textLength="12.6" lengthAdjust="spacingAndGlyphs">MaI</text>
<text x="29.6" y="0" textLength="17.1" lengthAdjust="spacingAndGlyphs">[cm</text>
<text x="47.4" y="-4.6" style="font-size:8px" textLength="4.3" lengthAdjust="spacingAndGlyphs">3</text>
<text x="53.3" y="0" textLength="4.5" lengthAdjust="spacingAndGlyphs">s</text>
<text x="58.3" y="-4.6" style="font-size:8px" textLength="9.7" lengthAdjust="spacingAndGlyphs">−1</text>
<text x="69.4" y="0" textLength="3.2" lengthAdjust="spacingAndGlyphs">]</text>
</g>
</g>
</svg>
</body></html>
